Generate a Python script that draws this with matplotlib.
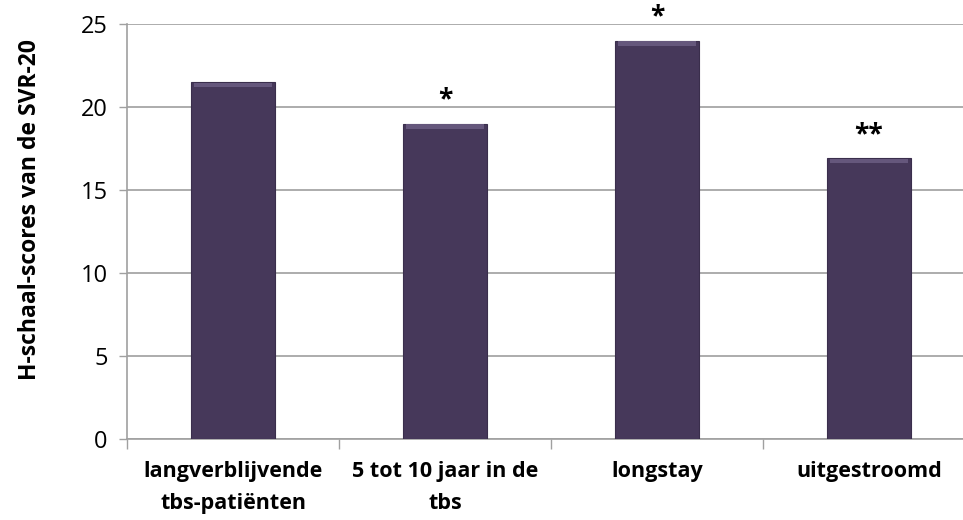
import matplotlib.pyplot as plt

categories = ['langverblijvende\ntbs-patiënten', '5 tot 10 jaar in de\ntbs', 'longstay', 'uitgestroomd']
scores = [21.5, 19.0, 24.0, 16.9]
marks = ['', '*', '*', '**']
yticks = [0, 5, 10, 15, 20, 25]

plt.rcParams['font.family'] = ['Open Sans', 'DejaVu Sans']

fig = plt.figure(figsize=(9.63, 5.2), dpi=100)
W, H = 963, 520
ax = fig.add_axes([127 / W, 81 / H, (975 - 127) / W, (439 - 24) / H])

pos = range(len(categories))
ax.bar(pos, scores, width=0.4, color='#46385a', edgecolor='#3a2e4c', linewidth=0.8, zorder=3)
# light bevel strip along the top of each bar
ax.bar(pos, [0.25] * len(scores), bottom=[s - 0.3 for s in scores], width=0.37,
       color='#65577c', linewidth=0, zorder=4)

for i, (s, m) in enumerate(zip(scores, marks)):
    if m:
        ax.annotate(m, (i, s), xytext=(0, 17), textcoords='offset points',
                    ha='center', va='center', fontsize=19, fontweight='bold', zorder=5)

ax.set_xlim(-0.5, 3.5)
ax.set_ylim(0, 25)
ax.set_yticks(yticks)
ax.tick_params(axis='y', length=6, width=1, color='#a0a0a0', labelsize=17, pad=8)
ax.yaxis.grid(True, color='#a6a6a6', linewidth=1.3, zorder=0)
ax.set_axisbelow(True)

ax.set_xticks([-0.5, 0.5, 1.5, 2.5, 3.5])
ax.set_xticklabels([])
ax.set_xticks(list(pos), minor=True)
ax.set_xticklabels(categories, minor=True, fontsize=15.5, fontweight='bold', linespacing=1.7)
ax.tick_params(axis='x', which='major', length=7, width=1, color='#a0a0a0')
ax.tick_params(axis='x', which='minor', length=0, pad=16)

for side in ['top', 'right']:
    ax.spines[side].set_visible(False)
for side in ['left', 'bottom']:
    ax.spines[side].set_color('#a0a0a0')
    ax.spines[side].set_linewidth(1.2)

fig.text(30 / W, 1 - 210 / H, 'H-schaal-scores van de SVR-20', rotation=90,
         ha='center', va='center', fontsize=16.5, fontweight='bold')

fig.savefig('out.png', dpi=100)
